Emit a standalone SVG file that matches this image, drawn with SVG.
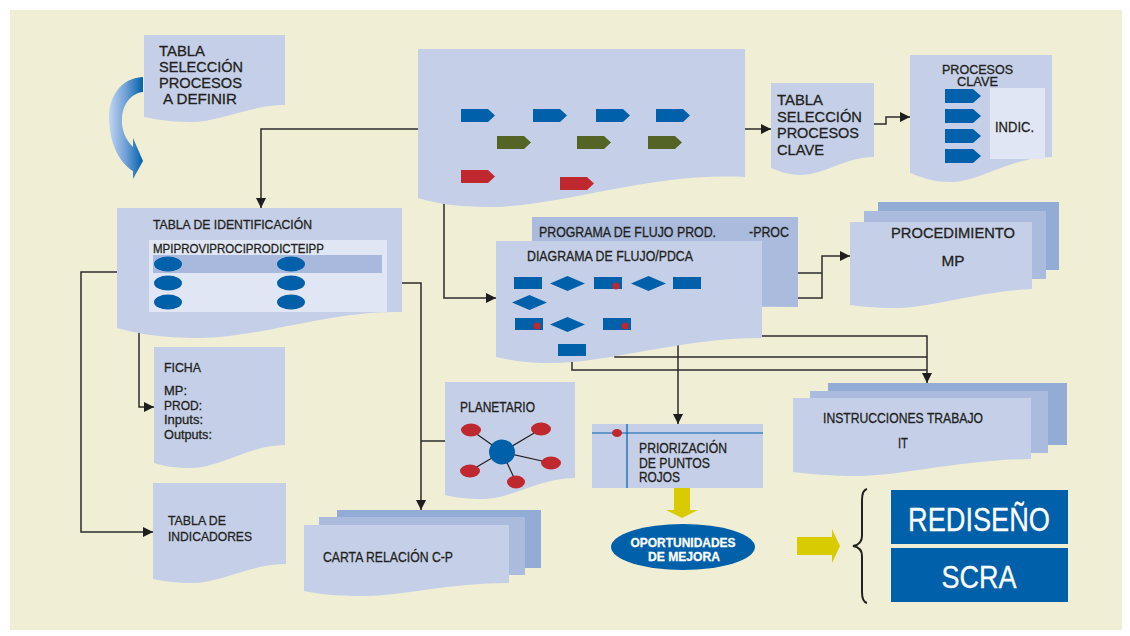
<svg xmlns="http://www.w3.org/2000/svg" width="1130" height="636" viewBox="0 0 1130 636">
<style>
.bg{fill:#f0eed5}
.doc{fill:#c5d0e8}
.mid{fill:#aabbdd}
.back{fill:#93acd6}
.lite{fill:#e0e6f3}
.blue{fill:#0060aa}
.green{fill:#546426}
.red{fill:#c0282f}
.yel{fill:#d8cc00}
.t{font-family:"Liberation Sans Narrow","Liberation Sans",Arial,sans-serif;fill:#231f20;stroke:#231f20;stroke-width:0.3}
.b{font-weight:bold}
.w{fill:#ffffff;stroke:#ffffff}
.ln{fill:none;stroke:#2b2b2b;stroke-width:1.5}
.arr{marker-end:url(#ah)}
.pl{stroke:#231f20;stroke-width:1.2}
</style>
<defs>
<marker id="ah" viewBox="0 0 10 10" refX="10" refY="5" markerWidth="7" markerHeight="7" orient="auto" markerUnits="strokeWidth">
<path d="M0,0 L10,5 L0,10 Z" fill="#1e1e1e"/>
</marker>
<polygon id="chev" points="0,0 27,0 34,6.5 27,13 0,13"/>
<polygon id="chev2" points="0,0 28,0 36,7 28,14 0,14"/>
<polygon id="dia" points="0,7.5 17.5,0 35,7.5 17.5,15"/>
<rect id="bx" width="28" height="12"/>
<linearGradient id="bg1" x1="0" y1="0" x2="1" y2="0">
<stop offset="0" stop-color="#c3d6f0"/>
<stop offset="0.5" stop-color="#6f9fd6"/>
<stop offset="1" stop-color="#0060aa"/>
</linearGradient>
</defs>
<rect width="1130" height="636" fill="#ffffff"/>
<rect class="bg" x="10" y="10" width="1112" height="620"/>

<g id="curved-arrow">
<path d="M143,77 C120,78 108,98 109,120 C110,145 120,163 133,171 L133,179 L143,161 L133,138 L133,147 C126,140 121,130 122,118 C123,103 132,93 143,92 Z" fill="url(#bg1)"/>
</g>

<g id="connectors">
<polyline class="ln arr" points="418,129 261,129 261,208"/>
<polyline class="ln arr" points="745,129 771,129"/>
<polyline class="ln arr" points="874,124 886,124 886,117 910,117"/>
<polyline class="ln arr" points="497,142 444,142 444,298 496,298"/>
<polyline class="ln arr" points="117,272 81,272 81,532 153,532"/>
<polyline class="ln arr" points="154,264 139,264 139,407 154,407"/>
<polyline class="ln arr" points="305,283 421,283 421,510"/>
<polyline class="ln" points="445,441 421,441"/>
<polyline class="ln" points="798,273 822,273"/>
<polyline class="ln arr" points="798,298 822,298 822,256 850,256"/>
<polyline class="ln arr" points="687,289 687,336 927,336 927,383"/>
<polyline class="ln" points="615,330 615,357 927,357"/>
<polyline class="ln" points="572,356 572,370 927,370"/>
<polyline class="ln arr" points="631,326 678,326 678,424"/>
</g>

<g id="tabla-seleccion-definir">
<path class="doc" d="M144,35 H285 V105 C250,105 220,122 190,122 C170,122 155,119 144,117 Z"/>
<text class="t" font-size="15.5" x="159" y="56" textLength="46" lengthAdjust="spacingAndGlyphs">TABLA</text>
<text class="t" font-size="15.5" x="159" y="72" textLength="84" lengthAdjust="spacingAndGlyphs">SELECCIÓN</text>
<text class="t" font-size="15.5" x="159" y="88" textLength="83" lengthAdjust="spacingAndGlyphs">PROCESOS</text>
<text class="t" font-size="15.5" x="163" y="104" textLength="74" lengthAdjust="spacingAndGlyphs">A DEFINIR</text>
</g>

<g id="mapa-procesos">
<path class="doc" d="M418,49 H745 V177 C650,172 560,207 490,207 C455,207 435,203 418,198 Z"/>
<use href="#chev" class="blue" x="461" y="109"/>
<use href="#chev" class="blue" x="533" y="109"/>
<use href="#chev" class="blue" x="596" y="109"/>
<use href="#chev" class="blue" x="656" y="109"/>
<use href="#chev" class="green" x="497" y="136"/>
<use href="#chev" class="green" x="577" y="136"/>
<use href="#chev" class="green" x="648" y="136"/>
<use href="#chev" class="red" x="461" y="170"/>
<use href="#chev" class="red" x="560" y="177"/>
</g>

<g id="tabla-seleccion-clave">
<path class="doc" d="M771,83 H874 V157 C845,157 825,175 800,175 C788,175 778,171 771,168 Z"/>
<text class="t" font-size="15.5" x="777" y="105" textLength="46" lengthAdjust="spacingAndGlyphs">TABLA</text>
<text class="t" font-size="15.5" x="777" y="122" textLength="85" lengthAdjust="spacingAndGlyphs">SELECCIÓN</text>
<text class="t" font-size="15.5" x="777" y="138" textLength="82" lengthAdjust="spacingAndGlyphs">PROCESOS</text>
<text class="t" font-size="15.5" x="777" y="155" textLength="47" lengthAdjust="spacingAndGlyphs">CLAVE</text>
</g>

<g id="procesos-clave">
<path class="doc" d="M910,55 H1052 V157 C1010,157 980,182 950,182 C933,182 920,177 910,173 Z"/>
<rect class="lite" x="990" y="88" width="55" height="71"/>
<text class="t" font-size="12.5" x="942" y="74" textLength="71" lengthAdjust="spacingAndGlyphs">PROCESOS</text>
<text class="t" font-size="12.5" x="957" y="86" textLength="41" lengthAdjust="spacingAndGlyphs">CLAVE</text>
<use href="#chev2" class="blue" x="945" y="89"/>
<use href="#chev2" class="blue" x="945" y="109"/>
<use href="#chev2" class="blue" x="945" y="129"/>
<use href="#chev2" class="blue" x="945" y="149"/>
<text class="t" font-size="15" x="995" y="132" textLength="39" lengthAdjust="spacingAndGlyphs">INDIC.</text>
</g>

<g id="tabla-identificacion">
<path class="doc" d="M117,208 H402 V312 C330,310 260,338 200,338 C160,338 135,333 117,328 Z"/>
<rect class="lite" x="149" y="240" width="238" height="72"/>
<rect fill="#a9b9dd" x="153" y="255" width="229" height="18"/>
<text class="t" font-size="13" x="153" y="229" textLength="159" lengthAdjust="spacingAndGlyphs">TABLA DE IDENTIFICACIÓN</text>
<text class="t" font-size="13" x="153" y="253" textLength="171" lengthAdjust="spacingAndGlyphs">MPIPROVIPROCIPRODICTEIPP</text>
<ellipse class="blue" cx="168" cy="264" rx="14" ry="7.5"/>
<ellipse class="blue" cx="291" cy="264" rx="14" ry="7.5"/>
<ellipse class="blue" cx="168" cy="283" rx="14" ry="7.5"/>
<ellipse class="blue" cx="291" cy="283" rx="14" ry="7.5"/>
<ellipse class="blue" cx="168" cy="302" rx="14" ry="7.5"/>
<ellipse class="blue" cx="291" cy="302" rx="14" ry="7.5"/>
</g>

<g id="ficha">
<path class="doc" d="M154,347 H285 V445 C250,445 220,468 192,468 C175,468 163,466 154,463 Z"/>
<text class="t" font-size="13" x="164" y="372" textLength="37" lengthAdjust="spacingAndGlyphs">FICHA</text>
<text class="t" font-size="13" x="164" y="395" textLength="23" lengthAdjust="spacingAndGlyphs">MP:</text>
<text class="t" font-size="13" x="164" y="410" textLength="38" lengthAdjust="spacingAndGlyphs">PROD:</text>
<text class="t" font-size="13" x="164" y="424" textLength="39" lengthAdjust="spacingAndGlyphs">Inputs:</text>
<text class="t" font-size="13" x="164" y="439" textLength="48" lengthAdjust="spacingAndGlyphs">Outputs:</text>
</g>

<g id="tabla-indicadores">
<path class="doc" d="M153,483 H286 V564 C250,564 220,583 192,583 C175,583 163,581 153,579 Z"/>
<text class="t" font-size="13.5" x="168" y="525" textLength="58" lengthAdjust="spacingAndGlyphs">TABLA DE</text>
<text class="t" font-size="13.5" x="168" y="541" textLength="84" lengthAdjust="spacingAndGlyphs">INDICADORES</text>
</g>

<g id="carta-relacion">
<rect class="back" x="337" y="510" width="204" height="58"/>
<rect class="mid" x="319" y="517" width="206" height="58"/>
<path class="doc" d="M304,525 H509 V583 C450,583 400,596 365,596 C335,596 318,594 304,591 Z"/>
<text class="t" font-size="14" x="323" y="562" textLength="130" lengthAdjust="spacingAndGlyphs">CARTA RELACIÓN C-P</text>
</g>

<g id="planetario">
<path class="doc" d="M445,382 H575 V478 C540,478 510,499 485,499 C465,499 453,497 445,495 Z"/>
<text class="t" font-size="14" x="460" y="412" textLength="75" lengthAdjust="spacingAndGlyphs">PLANETARIO</text>
<line class="pl" x1="502" y1="452" x2="471" y2="430"/>
<line class="pl" x1="502" y1="452" x2="541" y2="429"/>
<line class="pl" x1="502" y1="452" x2="551" y2="463"/>
<line class="pl" x1="502" y1="452" x2="516" y2="482"/>
<line class="pl" x1="502" y1="452" x2="470" y2="471"/>
<ellipse class="red" cx="471" cy="430" rx="10" ry="6.5"/>
<ellipse class="red" cx="541" cy="429" rx="10" ry="6.5"/>
<ellipse class="red" cx="551" cy="463" rx="10" ry="6.5"/>
<ellipse class="red" cx="516" cy="482" rx="9" ry="6.5"/>
<ellipse class="red" cx="470" cy="471" rx="10" ry="6.5"/>
<ellipse class="blue" cx="502" cy="452" rx="13" ry="12.5"/>
</g>

<g id="programa-flujo">
<path class="mid" d="M532,217 H798 V307 L532,305 Z"/>
<text class="t" font-size="14" x="539" y="237" textLength="177" lengthAdjust="spacingAndGlyphs">PROGRAMA DE FLUJO PROD.</text>
<text class="t" font-size="14" x="749" y="237" textLength="40" lengthAdjust="spacingAndGlyphs">-PROC</text>
</g>

<g id="diagrama-flujo">
<path class="doc" d="M496,241 H762 V338 C680,338 610,363 550,363 C525,363 510,360 496,357 Z"/>
<text class="t" font-size="14" x="527" y="261" textLength="166" lengthAdjust="spacingAndGlyphs">DIAGRAMA DE FLUJO/PDCA</text>
<use href="#bx" class="blue" x="514" y="277"/>
<use href="#dia" class="blue" x="550" y="276"/>
<use href="#bx" class="blue" x="594" y="277"/>
<circle class="red" cx="616" cy="286" r="3.5"/>
<use href="#dia" class="blue" x="631" y="276"/>
<use href="#bx" class="blue" x="673" y="277"/>
<use href="#dia" class="blue" x="512" y="295"/>
<use href="#bx" class="blue" x="515" y="318"/>
<circle class="red" cx="537" cy="326" r="3.5"/>
<use href="#dia" class="blue" x="550" y="317"/>
<use href="#bx" class="blue" x="603" y="318"/>
<circle class="red" cx="625" cy="326" r="3.5"/>
<use href="#bx" class="blue" x="558" y="344"/>
</g>

<g id="procedimiento">
<rect class="back" x="878" y="202" width="181" height="68"/>
<rect class="mid" x="864" y="211" width="182" height="68"/>
<path class="doc" d="M850,222 H1032 V289 C980,291 930,308 895,308 C872,308 860,306 850,305 Z"/>
<text class="t" font-size="15" x="953" y="238" text-anchor="middle" textLength="124" lengthAdjust="spacingAndGlyphs">PROCEDIMIENTO</text>
<text class="t" font-size="15" x="953" y="266" text-anchor="middle" textLength="23" lengthAdjust="spacingAndGlyphs">MP</text>
</g>

<g id="instrucciones">
<rect class="back" x="828" y="383" width="239" height="62"/>
<rect class="mid" x="810" y="391" width="238" height="62"/>
<path class="doc" d="M793,398 H1031 V459 C960,460 900,476 860,476 C830,476 810,474 793,472 Z"/>
<text class="t" font-size="14" x="823" y="423" textLength="160" lengthAdjust="spacingAndGlyphs">INSTRUCCIONES TRABAJO</text>
<text class="t" font-size="14" x="898" y="448" textLength="10" lengthAdjust="spacingAndGlyphs">IT</text>
</g>

<g id="priorizacion">
<rect class="doc" x="592" y="424" width="171" height="64"/>
<line x1="592" y1="433" x2="763" y2="433" stroke="#0060aa" stroke-width="1.2"/>
<line x1="627" y1="424" x2="627" y2="488" stroke="#0060aa" stroke-width="1.2"/>
<ellipse class="red" cx="617" cy="433" rx="5" ry="4"/>
<text class="t" font-size="14" x="639" y="453" textLength="88" lengthAdjust="spacingAndGlyphs">PRIORIZACIÓN</text>
<text class="t" font-size="14" x="639" y="468" textLength="71" lengthAdjust="spacingAndGlyphs">DE PUNTOS</text>
<text class="t" font-size="14" x="639" y="482" textLength="41" lengthAdjust="spacingAndGlyphs">ROJOS</text>
</g>

<g id="flecha-amarilla-abajo">
<polygon class="yel" points="674,488 690,488 690,510 698,510 682,518 666,510 674,510"/>
</g>

<g id="oportunidades">
<ellipse class="blue" cx="683" cy="547" rx="72" ry="23"/>
<text class="t b w" font-size="12.5" x="683" y="547" text-anchor="middle" textLength="105" lengthAdjust="spacingAndGlyphs">OPORTUNIDADES</text>
<text class="t b w" font-size="12.5" x="684" y="561" text-anchor="middle" textLength="72" lengthAdjust="spacingAndGlyphs">DE MEJORA</text>
</g>

<g id="flecha-amarilla-derecha">
<polygon class="yel" points="797,537 832,537 832,529 840,546 832,563 832,555 797,555"/>
</g>

<g id="llave">
<path d="M867,489 C863,490 862,494 862,500 V536 C862,542 859,545 853,546 C859,547 862,550 862,556 V592 C862,598 863,602 867,603" fill="none" stroke="#222" stroke-width="2"/>
</g>

<g id="rediseno">
<rect class="blue" x="891" y="490" width="177" height="54"/>
<text class="t w" font-size="34" x="979" y="531" text-anchor="middle" textLength="142" lengthAdjust="spacingAndGlyphs">REDISEÑO</text>
</g>

<g id="scra">
<rect class="blue" x="891" y="548" width="177" height="54"/>
<text class="t w" font-size="32" x="979" y="588" text-anchor="middle" textLength="75" lengthAdjust="spacingAndGlyphs">SCRA</text>
</g>
</svg>
